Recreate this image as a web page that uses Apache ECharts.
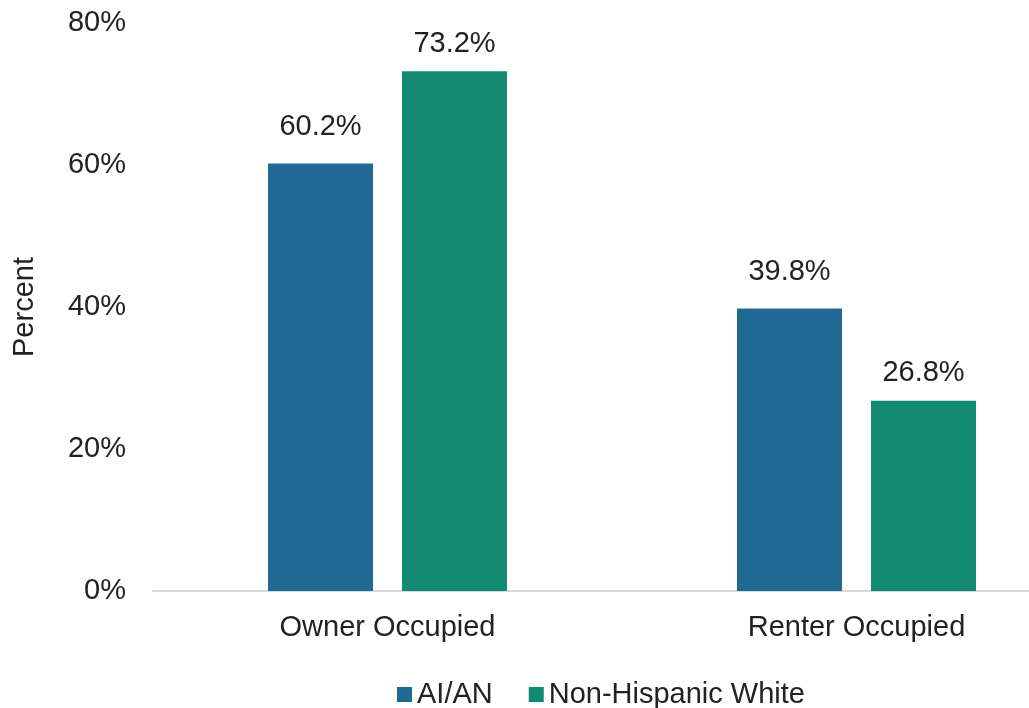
<!DOCTYPE html>
<html>
<head>
<meta charset="utf-8">
<script src="https://cdn.jsdelivr.net/npm/echarts@6/dist/echarts.min.js"></script>
<style>
  html, body { margin: 0; padding: 0; background: #fff; }
  #chart { width: 1029px; height: 708px; }
</style>
</head>
<body>
<div id="chart"></div>
<script>
const categories = ['Owner Occupied', 'Renter Occupied'];
const aian = [60.2, 39.8];
const nhWhite = [73.2, 26.8];
const seriesNames = ['AI/AN', 'Non-Hispanic White'];

const font = 'Liberation Sans, Arial, sans-serif';

function labelOpt(dist) {
    return {
        show: true,
        position: 'top',
        distance: dist,
        color: '#222',
        fontSize: 29,
        fontFamily: font,
        formatter: p => p.value.toFixed(1) + '%'
    };
}

const option = {
    animation: false,
    textStyle: { fontFamily: font },
    grid: {
        left: 153,
        width: 938,
        top: 23,
        bottom: 117,
        outerBoundsMode: 'none'
    },
    legend: {
        top: 675,
        left: 392,
        icon: 'rect',
        itemWidth: 15,
        itemHeight: 15,
        itemGap: 36,
        textStyle: { fontSize: 29, color: '#222', fontFamily: font },
        data: seriesNames
    },
    xAxis: {
        type: 'category',
        data: categories,
        axisLine: { lineStyle: { color: '#d9d9d9', width: 2 } },
        axisTick: { show: false },
        axisLabel: { fontSize: 29, color: '#222', margin: 22, fontFamily: font }
    },
    yAxis: {
        type: 'value',
        min: 0,
        max: 80,
        interval: 20,
        name: 'Percent',
        nameLocation: 'middle',
        nameGap: 114,
        nameTextStyle: { fontSize: 29, color: '#222', fontFamily: font },
        splitLine: { show: false },
        axisLine: { show: false },
        axisTick: { show: false },
        axisLabel: { fontSize: 29, color: '#222', margin: 27, fontFamily: font, formatter: '{value}%' }
    },
    series: [
        {
            name: seriesNames[0],
            type: 'bar',
            data: aian,
            barWidth: 105,
            barGap: '27.6%',
            itemStyle: { color: '#216892' },
            label: labelOpt(22)
        },
        {
            name: seriesNames[1],
            type: 'bar',
            data: nhWhite,
            barWidth: 105,
            barGap: '27.6%',
            itemStyle: { color: '#138B72' },
            label: labelOpt(13)
        }
    ]
};

let myChart = echarts.init(document.getElementById('chart'));
myChart.setOption(option);
</script>
</body>
</html>
